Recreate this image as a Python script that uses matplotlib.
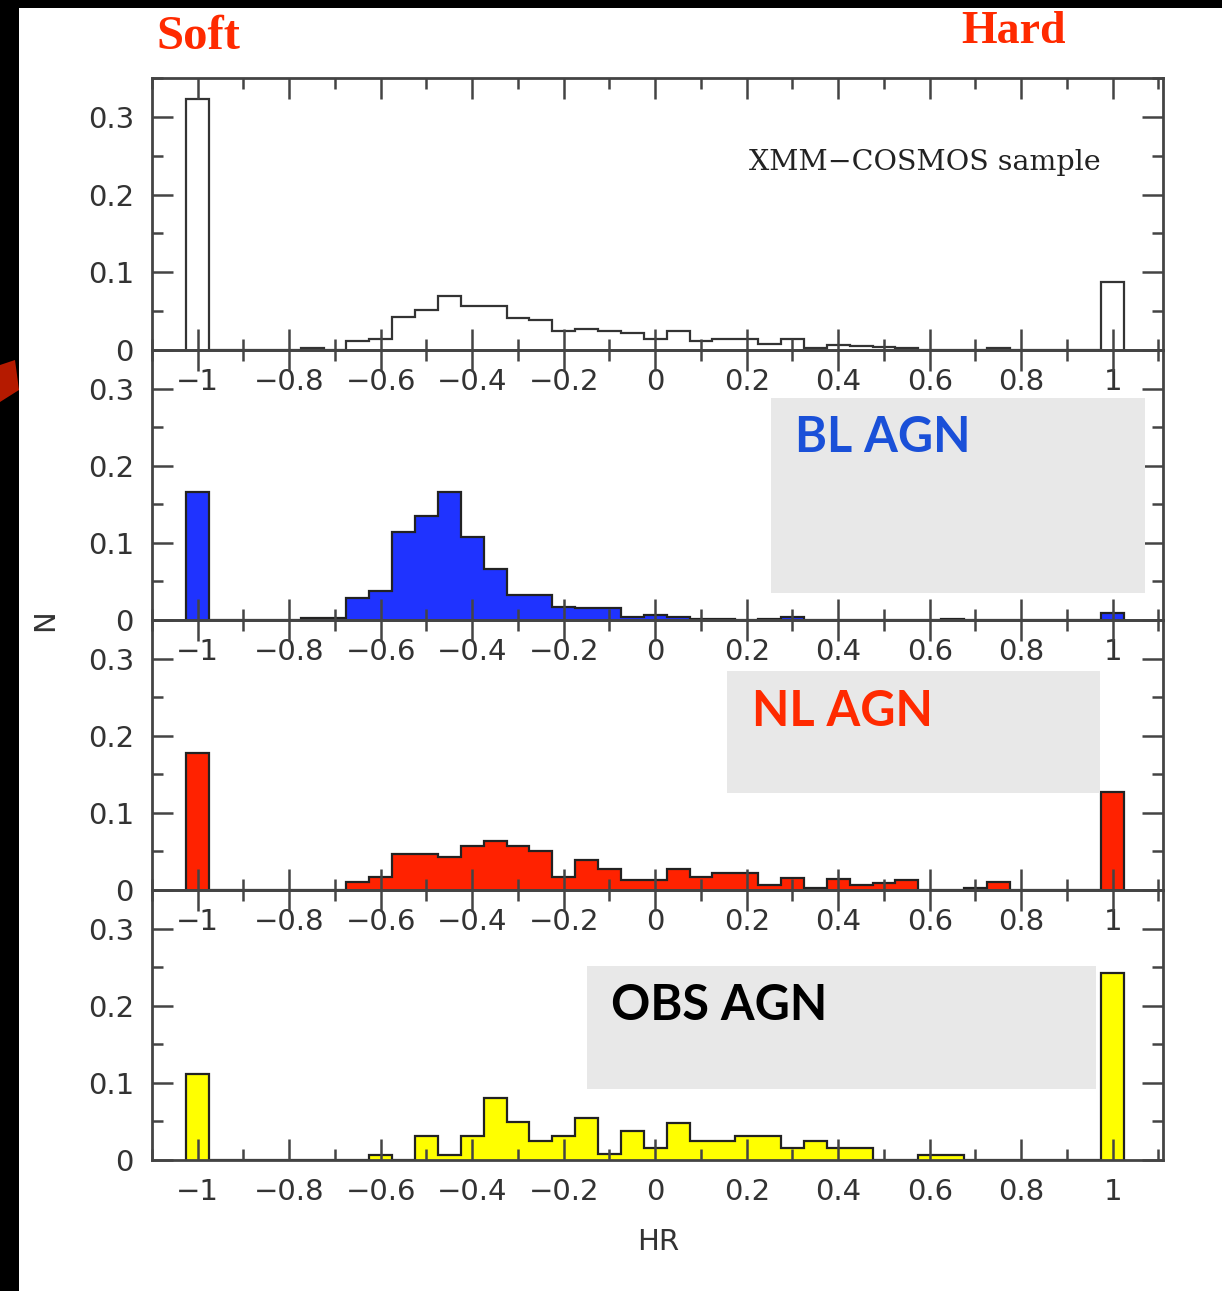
import numpy as np
import matplotlib.pyplot as plt
from matplotlib.patches import Rectangle, Polygon
from matplotlib.ticker import FixedLocator, FixedFormatter, MultipleLocator

# HR histograms, bin width 0.05, centres -1 ... 1
hr_edges = np.linspace(-1.025, 1.025, 42)

xmm_all = [0.323, 0, 0, 0, 0, 0.003, 0, 0.012, 0.014, 0.042,
           0.052, 0.069, 0.057, 0.056, 0.041, 0.038, 0.025, 0.027, 0.025, 0.022,
           0.014, 0.025, 0.011, 0.014, 0.014, 0.008, 0.014, 0.003, 0.006, 0.005,
           0.004, 0.003, 0, 0, 0, 0.003, 0, 0, 0, 0, 0.088]
bl_agn = [0.166, 0, 0, 0, 0, 0.002, 0.002, 0.028, 0.037, 0.114,
          0.135, 0.166, 0.108, 0.066, 0.033, 0.033, 0.017, 0.015, 0.015, 0.004,
          0.006, 0.004, 0.001, 0.001, 0, 0.001, 0.004, 0, 0, 0,
          0, 0, 0, 0.001, 0, 0, 0, 0, 0, 0, 0.009]
nl_agn = [0.177, 0, 0, 0, 0, 0, 0, 0.011, 0.017, 0.047,
          0.047, 0.043, 0.057, 0.064, 0.057, 0.050, 0.017, 0.039, 0.027, 0.013,
          0.013, 0.027, 0.017, 0.022, 0.022, 0.0065, 0.016, 0.003, 0.014, 0.0065,
          0.0095, 0.013, 0, 0, 0.003, 0.010, 0, 0, 0, 0, 0.127]
obs_agn = [0.111, 0, 0, 0, 0, 0, 0, 0, 0.007, 0,
           0.031, 0.0065, 0.031, 0.080, 0.049, 0.025, 0.031, 0.055, 0.008, 0.038,
           0.015, 0.048, 0.024, 0.024, 0.031, 0.031, 0.015, 0.024, 0.015, 0.015,
           0, 0, 0.007, 0.007, 0, 0, 0, 0, 0, 0, 0.243]

x_ticks = [-1, -0.8, -0.6, -0.4, -0.2, 0, 0.2, 0.4, 0.6, 0.8, 1]
x_labels = ["−1", "−0.8", "−0.6", "−0.4", "−0.2", "0", "0.2", "0.4", "0.6", "0.8", "1"]
y_ticks = [0, 0.1, 0.2, 0.3]
y_labels = ["0", "0.1", "0.2", "0.3"]

panels = [
    (xmm_all, None),
    (bl_agn, "#1f33ff"),
    (nl_agn, "#ff2200"),
    (obs_agn, "#ffff00"),
]

W, H = 1222, 1291
fig = plt.figure(figsize=(W / 100, H / 100), dpi=100)
plt.rcParams['font.family'] = ['DejaVu Sans']

def fx(px):
    return px / W

def fy(py):
    return 1 - py / H

tops = [78, 350, 620, 890]
bottoms = [350, 620, 890, 1160]
left, right = 152, 1163

axes = []
for (vals, color), top, bot in zip(panels, tops, bottoms):
    ax = fig.add_axes([fx(left), fy(bot), fx(right - left), (bot - top) / H])
    ax.set_facecolor('none')
    if color is None:
        ax.stairs(vals, hr_edges, fill=False, color='#333333', linewidth=1.6, baseline=0)
    else:
        ax.stairs(vals, hr_edges, fill=True, facecolor=color, edgecolor='#222222',
                  linewidth=1.6, baseline=0)
    ax.set_xlim(-1.1, 1.11)
    ax.set_ylim(0, 0.35)
    ax.xaxis.set_major_locator(FixedLocator(x_ticks))
    ax.xaxis.set_major_formatter(FixedFormatter(x_labels))
    ax.xaxis.set_minor_locator(MultipleLocator(0.1))
    ax.yaxis.set_major_locator(FixedLocator(y_ticks))
    ax.yaxis.set_major_formatter(FixedFormatter(y_labels))
    ax.yaxis.set_minor_locator(MultipleLocator(0.05))
    ax.tick_params(which='both', direction='in', top=True, right=True,
                   color='#444444', width=1.8, labelsize=21, labelcolor='#333333')
    ax.tick_params(which='major', length=15)
    ax.tick_params(which='minor', length=8)
    ax.tick_params(axis='x', which='major', pad=13)
    ax.tick_params(axis='y', which='major', pad=13)
    for sp in ax.spines.values():
        sp.set_linewidth(2.0)
        sp.set_color('#444444')
    axes.append(ax)

axes[0].text(0.938, 0.69, "XMM−COSMOS sample", transform=axes[0].transAxes,
             ha='right', va='center', fontsize=20.5, family='DejaVu Serif', color='#222222')

# grey label boxes
boxes = [
    (771, 398, 1145, 593, "BL AGN", "#1a50d8", 795, 437),
    (727, 671, 1100, 793, "NL AGN", "#ff2a00", 752, 712),
    (587, 966, 1096, 1089, "OBS AGN", "#000000", 611, 1005),
]
for x0, y0, x1, y1, label, tc, tx, ty in boxes:
    fig.add_artist(Rectangle((fx(x0), fy(y1)), fx(x1 - x0), (y1 - y0) / H,
                             transform=fig.transFigure, facecolor='#e8e8e8',
                             edgecolor='none', zorder=1))
    fig.text(fx(tx), fy(ty), label, ha='left', va='center', fontsize=35,
             family='Lato', fontweight='bold', color=tc, zorder=3)

fig.text(fx(198), fy(37), "Soft", ha='center', va='center', fontsize=35,
         family='Liberation Serif', fontweight='bold', color='#ff2a00')
fig.text(fx(1013), fy(32), "Hard", ha='center', va='center', fontsize=33,
         family='Liberation Serif', fontweight='bold', color='#ff2a00')

fig.text(fx(658), fy(1242), "HR", ha='center', va='center', fontsize=21, color='#333333')
fig.text(fx(45), fy(620), "N", ha='center', va='center', fontsize=21, rotation=90,
         color='#333333')

# black frame edges and red smudge from the slide
fig.add_artist(Rectangle((0, fy(8)), 1, 8 / H, transform=fig.transFigure,
                         facecolor='black', edgecolor='none', zorder=5))
fig.add_artist(Rectangle((0, 0), fx(19), 1, transform=fig.transFigure,
                         facecolor='black', edgecolor='none', zorder=5))
fig.add_artist(Polygon([(0, fy(365)), (fx(15), fy(360)), (fx(19), fy(390)), (0, fy(402))],
                       closed=True, transform=fig.transFigure, facecolor='#b51a00',
                       edgecolor='none', zorder=6))

fig.savefig("out.png", dpi=100)
